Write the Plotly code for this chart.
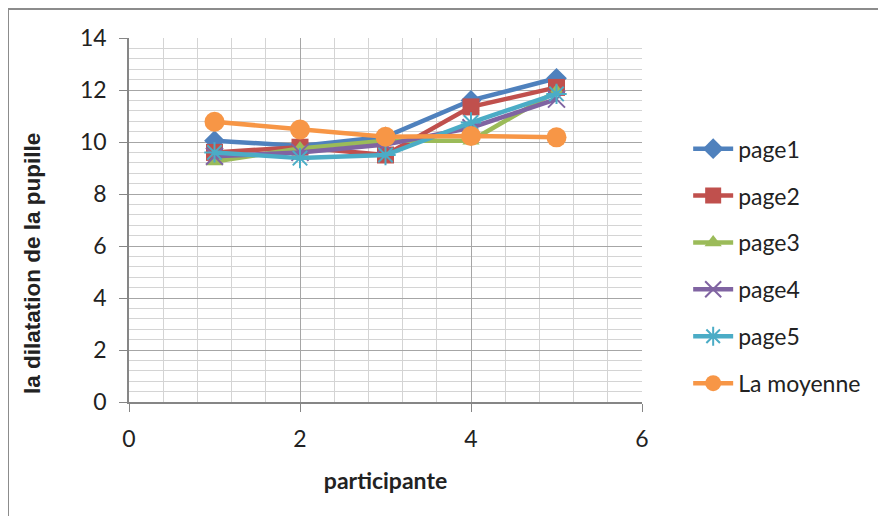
import plotly.graph_objects as go

participants = [1, 2, 3, 4, 5]
page1 = [10.05, 9.85, 10.2, 11.6, 12.45]
page2 = [9.6, 9.8, 9.5, 11.35, 12.1]
page3 = [9.25, 9.75, 10.05, 10.05, 11.95]
page4 = [9.45, 9.6, 9.9, 10.55, 11.65]
page5 = [9.6, 9.38, 9.5, 10.75, 11.85]
moyenne = [10.78, 10.48, 10.2, 10.23, 10.18]

series_names = ["page1", "page2", "page3", "page4", "page5", "La moyenne"]
series_values = [page1, page2, page3, page4, page5, moyenne]
colors = ["#4F81BD", "#C0504D", "#9BBB59", "#8064A2", "#4BACC6", "#F79646"]
symbols = ["diamond", "square", "triangle-up", "x-thin", "asterisk", "circle"]
sizes = [16, 17, 15, 17, 17, 20]

FONT = "Lato, Calibri, 'Open Sans', sans-serif"
TXT = "#222222"

fig = go.Figure()
for name, vals, col, sym, sz in zip(series_names, series_values, colors, symbols, sizes):
    marker = dict(symbol=sym, size=sz, color=col)
    if sym in ("x-thin", "asterisk"):
        marker["line"] = dict(color=col, width=2)
    fig.add_trace(go.Scatter(
        x=participants, y=vals, name=name, legendgroup=name,
        mode="lines+markers",
        line=dict(color=col, width=4.5),
        marker=marker,
    ))

grid_major = "#a6a6a6"
grid_minor = "#d4d4d4"

# page body has an 8px offset, so plot area lands at screen x 129..642, y 38..402
fig.update_layout(
    width=886, height=516,
    margin=dict(l=121, r=252, t=30, b=122),
    paper_bgcolor="white", plot_bgcolor="white",
    font=dict(family=FONT, size=23, color=TXT),
    showlegend=True,
    legend=dict(
        x=1.09, y=0.755, xanchor="left", yanchor="top",
        font=dict(family=FONT, size=23, color=TXT),
        tracegroupgap=14, itemwidth=40,
        bgcolor="rgba(0,0,0,0)",
    ),
    xaxis=dict(
        range=[0, 6], dtick=2, tick0=0,
        showgrid=True, gridcolor=grid_major, gridwidth=1,
        minor=dict(dtick=0.4, tick0=0, showgrid=True, gridcolor=grid_minor, gridwidth=1),
        showline=True, linecolor="#868686", linewidth=1.5,
        ticks="outside", ticklen=8, tickcolor="#868686",
        zeroline=False, ticklabelstandoff=8,
        title=dict(text="<b>participante</b>", font=dict(family=FONT, size=23, color=TXT), standoff=22),
        tickfont=dict(family=FONT, size=23, color=TXT),
    ),
    yaxis=dict(
        range=[0, 14], dtick=2, tick0=0,
        showgrid=True, gridcolor=grid_major, gridwidth=1,
        minor=dict(dtick=0.4, tick0=0, showgrid=True, gridcolor=grid_minor, gridwidth=1),
        showline=True, linecolor="#868686", linewidth=1.5,
        ticks="outside", ticklen=8, tickcolor="#868686",
        zeroline=False, ticklabelstandoff=8,
        tickfont=dict(family=FONT, size=23, color=TXT),
    ),
    annotations=[dict(
        text="<b>la dilatation de la pupille</b>",
        xref="paper", yref="paper",
        x=(32 - 129) / 513, y=(402 - 264) / 364,
        xanchor="center", yanchor="middle",
        textangle=-90, showarrow=False,
        font=dict(family="'Liberation Sans', Arial, sans-serif", size=22.5, color=TXT),
    )],
    shapes=[dict(
        type="rect", xref="paper", yref="paper",
        x0=(8 - 129) / 513, x1=1.6,
        y0=-0.5, y1=(402 - 9) / 364,
        line=dict(color="#8c8c8c", width=2),
        fillcolor="rgba(0,0,0,0)", layer="below",
    )],
)

fig.write_html("out.html")
